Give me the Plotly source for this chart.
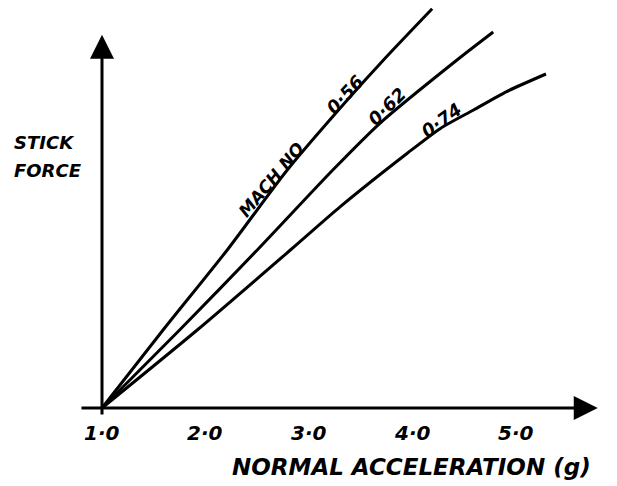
import plotly.graph_objects as go

# Normal acceleration (g) vs stick force (arbitrary units) at three Mach numbers
mach_labels = ["0·56", "0·62", "0·74"]

accel_m056 = [1.0, 1.59, 2.21, 2.79, 3.37, 3.72, 4.19]
force_m056 = [0.0, 1.95, 3.95, 5.95, 7.70, 8.70, 9.98]

accel_m062 = [1.0, 1.75, 2.50, 3.23, 3.69, 4.43, 4.78]
force_m062 = [0.0, 1.95, 3.95, 5.95, 7.13, 8.70, 9.40]

accel_m074 = [1.0, 1.92, 2.82, 3.30, 3.95, 4.27, 4.59, 4.91, 5.29]
force_m074 = [0.0, 1.95, 3.95, 5.03, 6.37, 6.99, 7.45, 7.91, 8.35]

tick_values = [1, 2, 3, 4, 5]
tick_labels = ["1·0", "2·0", "3·0", "4·0", "5·0"]

x_title = "NORMAL ACCELERATION (g)"
y_title_lines = ["STICK", "FORCE"]

INK = "#000000"
FONT = "DejaVu Sans"


def hand_font(size):
    return dict(family=FONT, size=size, color=INK, weight="bold", style="italic")


fig = go.Figure()
for xs, ys in [(accel_m056, force_m056), (accel_m062, force_m062), (accel_m074, force_m074)]:
    fig.add_trace(go.Scatter(
        x=xs, y=ys, mode="lines",
        line=dict(color=INK, width=3, shape="spline", smoothing=0.7),
        hoverinfo="skip", showlegend=False,
    ))

annotations = []

# Axis arrows
annotations.append(dict(
    x=5.79, y=0, ax=0.787, ay=0, xref="x", yref="y", axref="x", ayref="y",
    text="", showarrow=True, arrowhead=2, arrowsize=1.6, arrowwidth=3,
    arrowcolor=INK, standoff=0,
))
annotations.append(dict(
    x=1.0, y=9.33, ax=1.0, ay=-0.2, xref="x", yref="y", axref="x", ayref="y",
    text="", showarrow=True, arrowhead=2, arrowsize=1.6, arrowwidth=3,
    arrowcolor=INK, standoff=0,
))

# Tick labels along the acceleration axis
for v, t in zip(tick_values, tick_labels):
    annotations.append(dict(
        x=v, y=-0.63, xref="x", yref="y", text=t, showarrow=False,
        font=hand_font(20), xanchor="center", yanchor="middle",
    ))

# Axis titles
annotations.append(dict(
    x=3.995, y=-1.48, xref="x", yref="y", text=x_title, showarrow=False,
    font=hand_font(23), xanchor="center", yanchor="middle",
))
for line_text, yv in zip(y_title_lines, [6.65, 5.95]):
    annotations.append(dict(
        x=0.13, y=yv, xref="x", yref="y", text=line_text, showarrow=False,
        font=hand_font(18), xanchor="left", yanchor="middle",
    ))

# Curve labels written along each line
annotations.append(dict(
    x=2.633, y=5.70, xref="x", yref="y", text="MACH NO", showarrow=False,
    font=hand_font(17), textangle=-50,
))
for label, (lx, ly, ang) in zip(mach_labels, [(3.348, 7.83, -47), (3.754, 7.53, -45), (4.275, 7.20, -36)]):
    annotations.append(dict(
        x=lx, y=ly, xref="x", yref="y", text=label, showarrow=False,
        font=hand_font(18), textangle=ang,
    ))

fig.update_layout(
    width=617, height=486,
    margin=dict(l=0, r=0, t=0, b=0),
    paper_bgcolor="white", plot_bgcolor="white",
    xaxis=dict(range=[0.0145, 5.976], visible=False, fixedrange=True),
    yaxis=dict(range=[-1.95, 10.2], visible=False, fixedrange=True),
    annotations=annotations,
    showlegend=False,
)

fig.write_html("out.html")
